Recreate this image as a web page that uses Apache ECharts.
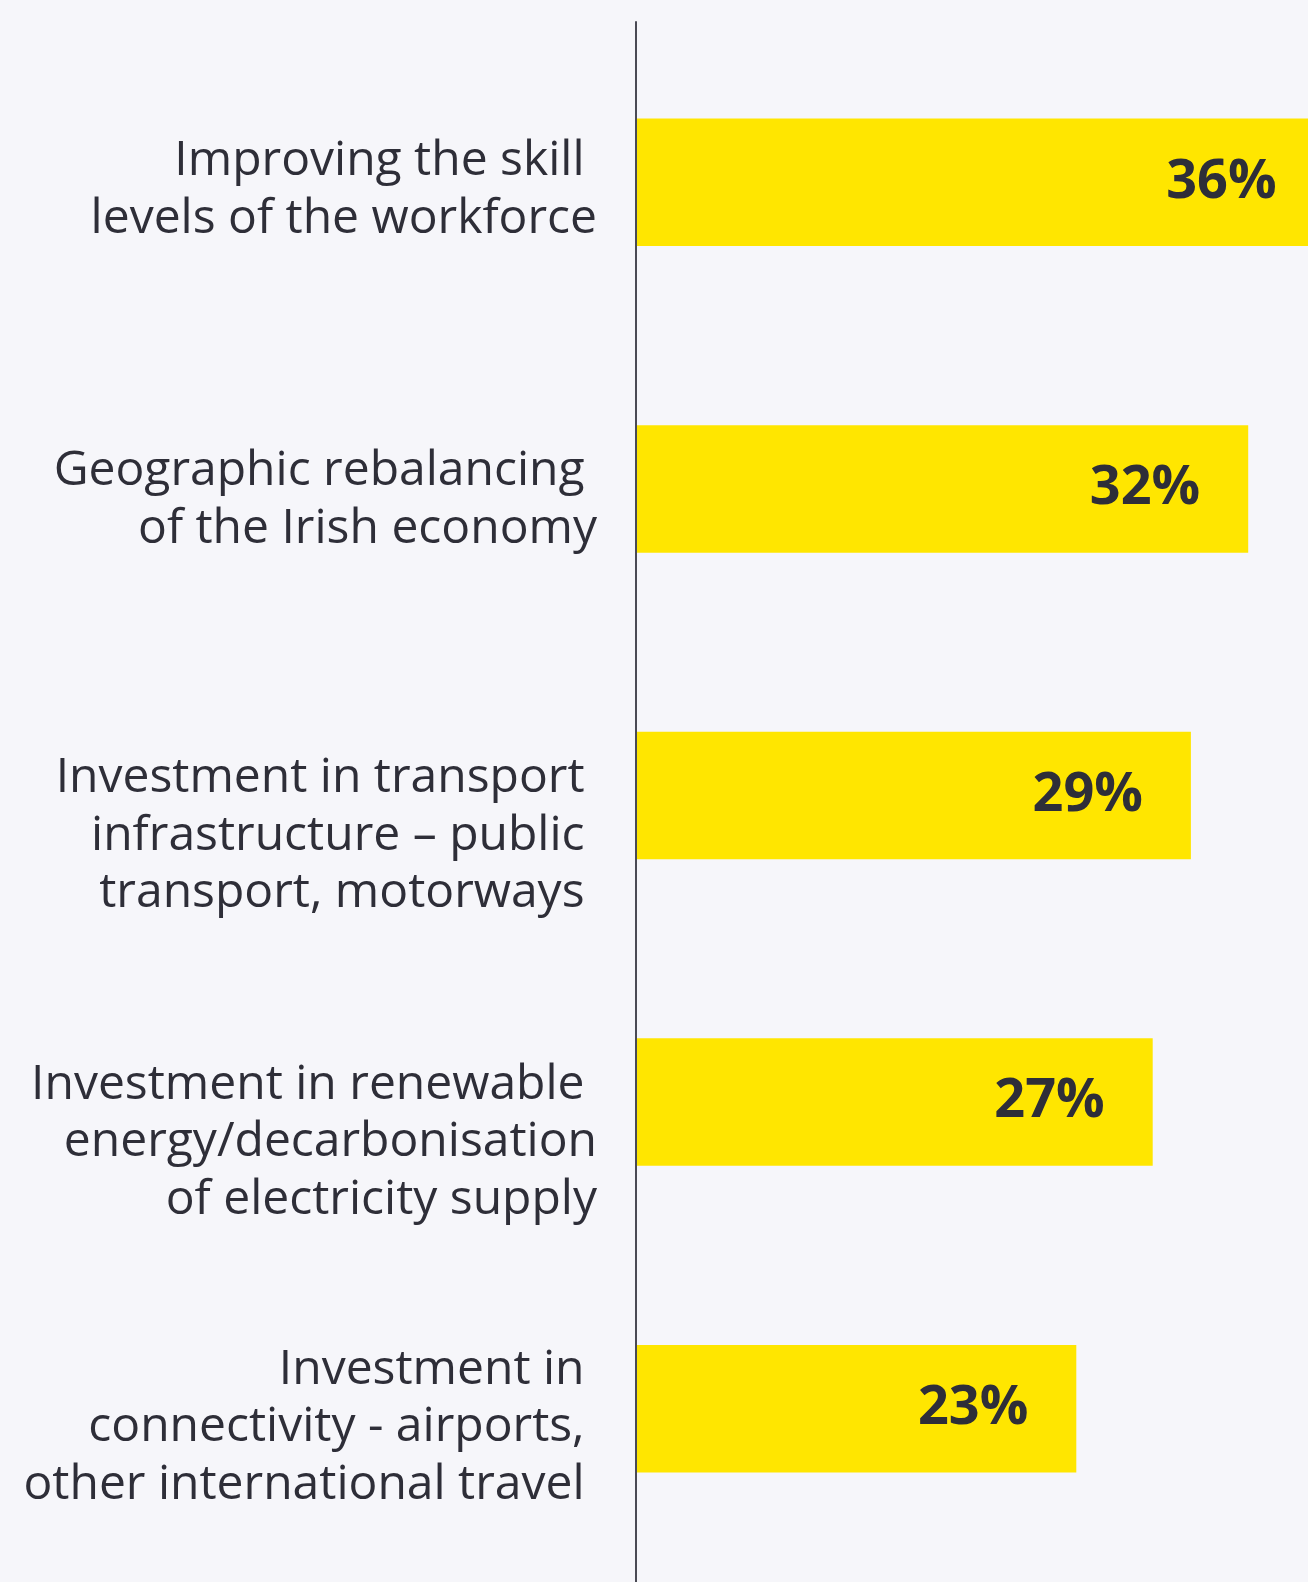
<!DOCTYPE html>
<html>
<head>
<meta charset="utf-8">
<script src="https://cdn.jsdelivr.net/npm/echarts@6/dist/echarts.min.js"></script>
<style>
  html, body { margin: 0; padding: 0; background: #f6f6fa; }
  #chart { width: 1308px; height: 1582px; }
</style>
</head>
<body>
<div id="chart"></div>
<script>
// ---- data ----
const categories = [
  'Improving the skill \nlevels of the workforce',
  'Geographic rebalancing \nof the Irish economy',
  'Investment in transport \ninfrastructure \u2013 public \ntransport, motorways ',
  'Investment in renewable \nenergy/decarbonisation\nof electricity supply',
  'Investment in \nconnectivity - airports, \nother international travel '
];
const values = [36, 32, 29, 27, 23];

// ---- layout / style ----
const labelShift = [8, 11.5, 40.5, 40.5, 19];  // downward nudge of each category label block
const FONT = '"Open Sans", sans-serif';
const TEXT = '#2e2e38';

const rich = { t: { fontFamily: FONT, fontSize: 48, lineHeight: 57.5, color: TEXT, align: 'right' } };
labelShift.forEach((s, i) => { rich['g' + i] = { fontSize: 1, lineHeight: s * 2, align: 'right' }; });

const chart = echarts.init(document.getElementById('chart'), null, { renderer: 'canvas' });
chart.setOption({
  backgroundColor: '#f6f6fa',
  animation: false,
  grid: [
    { left: 637, top: 29, height: 1533, width: 764, outerBoundsMode: 'none', containLabel: false },
    { left: 636, top: 22, bottom: 0, width: 2, outerBoundsMode: 'none', containLabel: false }
  ],
  xAxis: [
    { type: 'value', gridIndex: 0, min: 0, max: 40, show: false },
    { type: 'value', gridIndex: 1, min: 0, max: 1, show: false }
  ],
  yAxis: [
    {
      type: 'category', gridIndex: 0, inverse: true, data: categories,
      axisLine: { show: false }, axisTick: { show: false }, splitLine: { show: false },
      axisLabel: {
        margin: 40, align: 'right', verticalAlign: 'middle',
        fontFamily: FONT, fontSize: 48, lineHeight: 57.5, color: TEXT,
        formatter: (v, i) => '{g' + i + '| }\n' + v.split('\n').map(l => '{t|' + l + '}').join('\n'),
        rich: rich
      }
    },
    {
      type: 'value', gridIndex: 1, min: 0, max: 1,
      axisLine: { show: true, onZero: false, lineStyle: { color: '#4a4a54', width: 2 } },
      axisTick: { show: false }, axisLabel: { show: false }, splitLine: { show: false }
    }
  ],
  series: [{
    type: 'bar',
    xAxisIndex: 0, yAxisIndex: 0,
    data: values,
    barWidth: 127.5,
    itemStyle: { color: '#ffe600' },
    label: {
      show: true, position: 'insideRight', distance: 48,
      formatter: '{c}%',
      fontFamily: FONT, fontWeight: 'bold', fontSize: 54, color: TEXT
    }
  }]
});
</script>
</body>
</html>
